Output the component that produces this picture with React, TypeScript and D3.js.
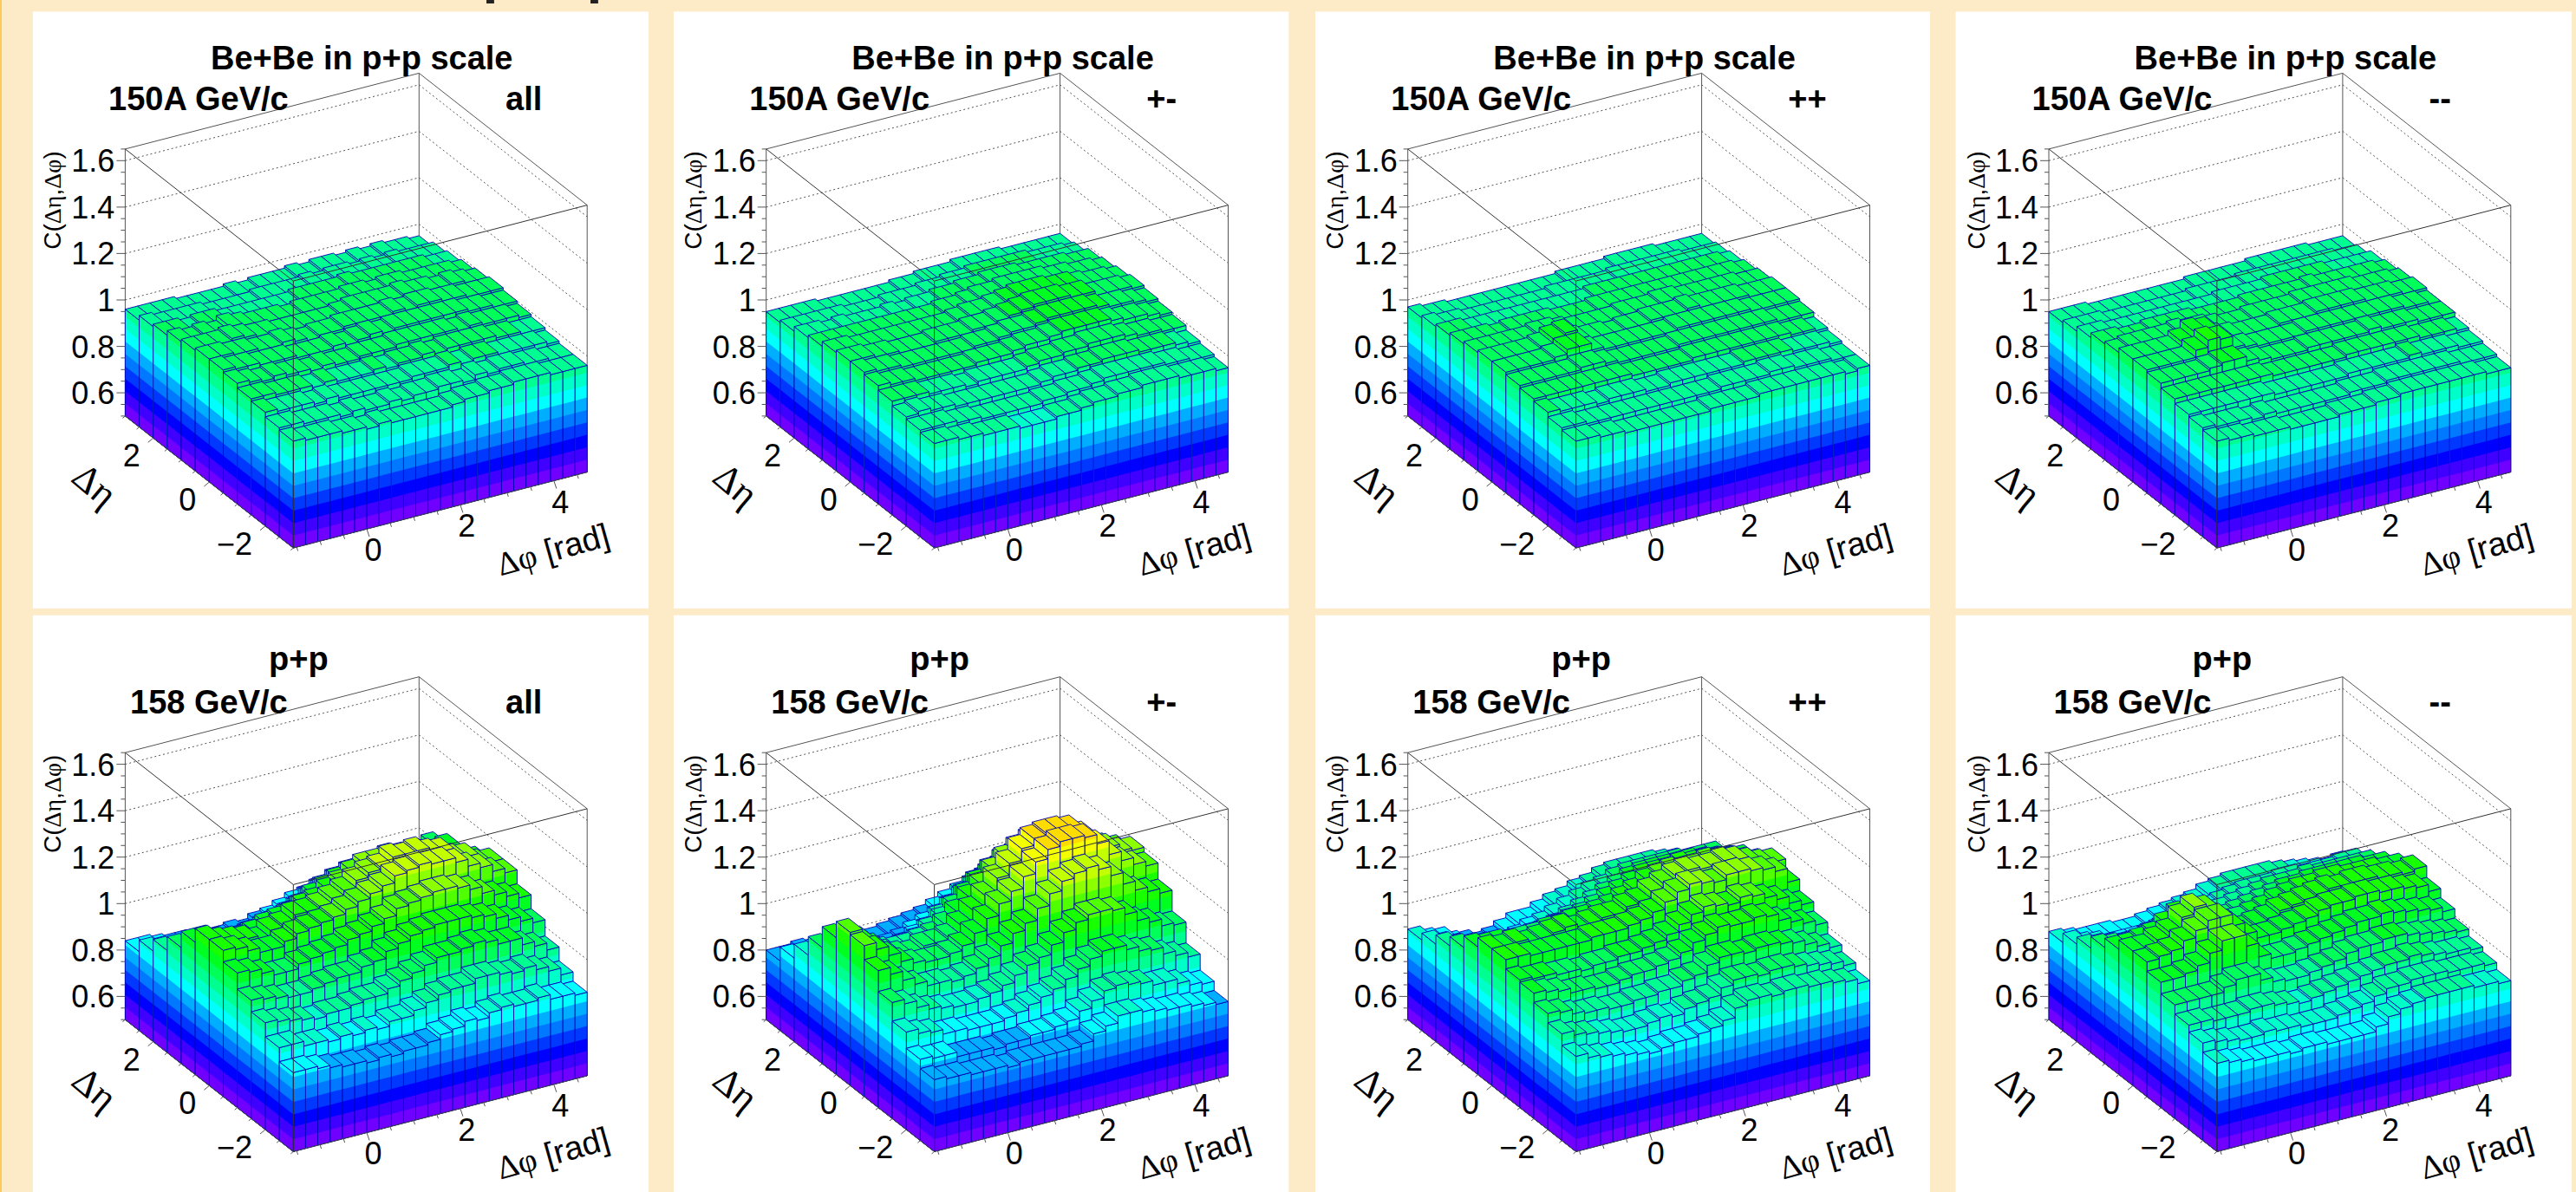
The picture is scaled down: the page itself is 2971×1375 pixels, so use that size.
import * as d3 from "d3";

// C(deta,dphi) values, one row per deta bin (row 0 is deta = -3), 24 dphi bins per row
const beBeAll = [
  [.96,.95,.95,.95,.94,.94,.93,.94,.93,.93,.93,.93,.93,.94,.95,.95,.96,.96,.97,.97,.97,.96,.96,.96],
  [.97,.97,.96,.96,.96,.95,.96,.95,.95,.96,.95,.96,.96,.97,.97,.96,.98,.97,.98,.98,.97,.97,.96,.96],
  [.99,.98,.98,.98,.97,.98,.97,.97,.97,.97,.97,.97,.98,.98,.98,.99,.98,.99,.99,.98,.98,.98,.98,.97],
  [1,1,.99,.99,.99,.98,.99,.98,.98,.98,.99,.98,.99,.99,1,.99,1,1,1,1,.99,.99,.98,.98],
  [1.02,1.01,1,1.01,1,1,.99,1,.99,.99,1,1,1,1.01,1.01,1.01,1.01,1.01,1,1.01,1,1,1,.99],
  [1.03,1.02,1.02,1.01,1.01,1.01,1,1,1,1.01,1,1.01,1.02,1.01,1.02,1.02,1.02,1.02,1.02,1.02,1.01,1.01,1,1],
  [1.03,1.03,1.02,1.02,1.01,1.01,1.02,1.01,1,1.01,1.01,1.02,1.02,1.02,1.02,1.03,1.02,1.03,1.03,1.02,1.02,1.01,1.01,1.01],
  [1.02,1.02,1.02,1.03,1.02,1.01,1.01,1,1,1,1,1,1.01,1.02,1.02,1.02,1.02,1.03,1.02,1.02,1.01,1.02,1.01,1],
  [1.01,1,1.01,1,1.02,1.01,1,1,1,.99,1,1,1,1,1.01,1.01,1,1.01,1.01,1,1,1,1,.99],
  [.99,.99,.98,.99,.99,.98,.98,.98,.98,.98,.98,.99,.99,.99,.99,1,.99,.99,.99,.99,.99,.99,.98,.98],
  [.98,.97,.97,.97,.97,.96,.96,.96,.96,.97,.97,.97,.97,.98,.97,.98,.98,.97,.98,.97,.98,.97,.97,.97],
  [.96,.96,.96,.96,.95,.95,.95,.95,.96,.95,.96,.96,.96,.97,.96,.97,.97,.96,.97,.96,.97,.96,.96,.95],
];
const beBeUnlike = [
  [.95,.95,.94,.94,.93,.93,.93,.92,.92,.92,.93,.93,.94,.95,.95,.96,.96,.97,.97,.97,.96,.96,.96,.95],
  [.96,.96,.96,.95,.95,.94,.94,.94,.94,.94,.95,.95,.96,.96,.97,.98,.98,.98,.98,.98,.97,.97,.96,.96],
  [.97,.98,.97,.97,.96,.96,.96,.96,.96,.96,.96,.97,.98,.98,.99,.99,1,1,1,.99,.99,.99,.98,.97],
  [.99,.99,.99,.98,.98,.98,.97,.98,.98,.98,.98,.99,1,1,1.01,1.01,1.02,1.02,1.02,1.01,1,1,.99,.99],
  [1.01,1,1,.99,.99,.99,.99,.99,1,1,1,1.01,1.02,1.02,1.03,1.04,1.04,1.04,1.04,1.03,1.02,1.02,1.01,1],
  [1.02,1.01,1.01,1,1,1,1,1,1,1.01,1.01,1.02,1.03,1.03,1.04,1.05,1.05,1.05,1.05,1.04,1.03,1.03,1.02,1.01],
  [1.02,1.02,1.01,1.01,1,1,1,1.01,1.01,1.01,1.02,1.02,1.03,1.04,1.05,1.06,1.06,1.06,1.05,1.05,1.03,1.03,1.03,1.02],
  [1.01,1.01,1,1,1,1,1,1,1,1,1.01,1.02,1.02,1.03,1.04,1.05,1.05,1.05,1.04,1.04,1.03,1.02,1.02,1.01],
  [.99,.99,.99,.99,.99,.99,.99,.99,.99,.99,1,1,1.01,1.02,1.02,1.03,1.03,1.03,1.03,1.02,1.02,1.01,1.01,1],
  [.98,.98,.97,.98,.97,.97,.97,.98,.97,.98,.98,.99,.99,1,1,1.01,1.01,1.01,1,1,1,1,.99,.99],
  [.96,.96,.96,.96,.96,.95,.95,.95,.96,.96,.96,.97,.97,.98,.98,.99,.99,.99,.99,.99,.98,.98,.98,.97],
  [.95,.95,.95,.95,.94,.94,.94,.94,.94,.94,.95,.95,.96,.96,.96,.97,.97,.97,.97,.96,.96,.96,.96,.96],
];
const beBePlusPlus = [
  [.96,.96,.95,.95,.94,.94,.94,.94,.94,.94,.94,.95,.95,.95,.95,.96,.96,.96,.96,.96,.96,.96,.95,.96],
  [.97,.97,.96,.96,.96,.96,.96,.96,.96,.96,.96,.96,.96,.97,.97,.97,.97,.98,.98,.97,.97,.97,.96,.96],
  [.99,.98,.98,.98,.97,.98,.98,.98,.97,.97,.98,.98,.98,.98,.98,.98,.99,.99,.99,.99,.98,.98,.98,.97],
  [1,1,1,1,1,1,1,1,.99,.99,.99,.99,.99,1,1,1,1,1,1,1,1,.99,.99,.98],
  [1.01,1.01,1.01,1.01,1.01,1.02,1.02,1.01,1,1,1,1,1,1.01,1.01,1.01,1.01,1.01,1.01,1.01,1.01,1,1,1],
  [1.02,1.02,1.02,1.02,1.03,1.05,1.05,1.02,1.01,1.01,1.01,1.01,1.01,1.01,1.02,1.02,1.02,1.02,1.02,1.02,1.01,1.01,1.01,1.01],
  [1.02,1.02,1.02,1.02,1.03,1.05,1.06,1.02,1.01,1.01,1,1.01,1.01,1.02,1.02,1.02,1.03,1.02,1.02,1.02,1.02,1.01,1.01,1.01],
  [1.01,1.01,1.01,1.01,1.01,1.02,1.02,1.01,1,1,1,1,1.01,1.01,1.01,1.02,1.02,1.01,1.01,1.01,1.01,1.01,1,1],
  [1,1,1,.99,1,1,1,1,.99,.99,.99,1,1,1,1,1,1,1,1,1,1,1,1,.99],
  [.99,.99,.98,.98,.98,.98,.98,.98,.98,.98,.98,.98,.99,.99,.99,.99,.99,.99,.99,.99,.99,.99,.99,.98],
  [.98,.97,.97,.96,.96,.96,.96,.96,.96,.96,.97,.97,.97,.97,.97,.98,.98,.98,.98,.98,.98,.97,.97,.97],
  [.97,.96,.96,.95,.95,.95,.95,.95,.95,.95,.95,.95,.96,.96,.96,.96,.97,.97,.97,.97,.96,.96,.96,.96],
];
const beBeMinusMinus = [
  [.96,.95,.95,.94,.94,.94,.93,.93,.93,.93,.94,.94,.94,.95,.95,.96,.96,.96,.96,.96,.96,.96,.95,.95],
  [.97,.96,.96,.96,.95,.96,.95,.95,.95,.95,.95,.95,.96,.96,.96,.97,.97,.97,.97,.97,.97,.96,.96,.96],
  [.98,.98,.98,.98,.98,.98,.98,.97,.97,.97,.97,.97,.97,.98,.98,.98,.98,.98,.99,.98,.98,.98,.97,.97],
  [1,1,1,1,1,1,1,1,.99,.99,.99,.99,.99,.99,1,1,1,1,1,1,.99,.99,.99,.98],
  [1.02,1.02,1.02,1.02,1.03,1.04,1.04,1.02,1.01,1,1,1,1.01,1.01,1.01,1.01,1.01,1.02,1.01,1.01,1.01,1,1,1],
  [1.03,1.03,1.03,1.03,1.06,1.09,1.08,1.03,1.02,1.01,1.01,1.01,1.01,1.02,1.02,1.02,1.02,1.02,1.02,1.02,1.02,1.01,1.01,1],
  [1.03,1.03,1.03,1.03,1.05,1.08,1.07,1.03,1.02,1.01,1.01,1.01,1.02,1.02,1.02,1.03,1.03,1.03,1.03,1.02,1.02,1.02,1.01,1.01],
  [1.01,1.02,1.02,1.02,1.02,1.03,1.02,1.02,1.01,1,1,1.01,1.01,1.01,1.01,1.02,1.02,1.02,1.02,1.02,1.01,1.01,1.01,1],
  [1,1,.99,.99,1,1,1,1,.99,.99,.99,.99,1,1,1,1,1,1.01,1,1,1,1,1,.99],
  [.98,.98,.97,.97,.97,.97,.97,.97,.97,.97,.97,.98,.98,.98,.98,.99,.99,.99,.99,.99,.98,.98,.98,.98],
  [.96,.96,.96,.95,.95,.95,.95,.95,.95,.95,.96,.96,.96,.96,.97,.97,.97,.97,.97,.97,.97,.97,.96,.96],
  [.95,.95,.95,.94,.94,.94,.94,.94,.94,.94,.94,.95,.95,.95,.95,.95,.96,.96,.96,.96,.96,.95,.95,.95],
];
const ppAll = [
  [.84,.84,.83,.82,.81,.81,.8,.81,.8,.81,.81,.82,.84,.85,.87,.86,.88,.89,.88,.88,.89,.87,.87,.86],
  [.9,.9,.88,.88,.87,.88,.87,.88,.87,.89,.89,.91,.93,.95,.96,.96,.98,.98,.97,.96,.97,.95,.93,.9],
  [.96,.95,.94,.93,.92,.93,.93,.94,.95,.95,.97,.99,1.01,1.03,1.05,1.05,1.06,1.07,1.06,1.04,1.04,1.01,.99,.96],
  [1.01,1,.99,.98,.98,.99,1,1.01,1.01,1.03,1.04,1.07,1.09,1.11,1.12,1.13,1.13,1.13,1.12,1.11,1.09,1.07,1.05,1.03],
  [1.08,1.07,1.05,1.03,1.03,1.05,1.06,1.07,1.08,1.1,1.11,1.13,1.15,1.18,1.19,1.2,1.21,1.21,1.2,1.18,1.15,1.13,1.11,1.09],
  [1.13,1.12,1.1,1.08,1.08,1.1,1.12,1.13,1.14,1.15,1.17,1.19,1.21,1.23,1.26,1.27,1.28,1.27,1.27,1.25,1.22,1.2,1.17,1.15],
  [1.13,1.11,1.1,1.09,1.07,1.1,1.11,1.14,1.14,1.15,1.17,1.19,1.22,1.24,1.25,1.28,1.27,1.28,1.26,1.25,1.21,1.2,1.16,1.15],
  [1.07,1.07,1.05,1.03,1.03,1.04,1.06,1.07,1.08,1.1,1.11,1.14,1.16,1.19,1.21,1.21,1.22,1.21,1.2,1.18,1.16,1.15,1.13,1.11],
  [1,.99,.98,.96,.96,.97,.98,.99,1,1.02,1.04,1.07,1.09,1.11,1.13,1.13,1.14,1.13,1.12,1.11,1.09,1.08,1.06,1.05],
  [.94,.93,.91,.9,.89,.89,.9,.91,.91,.93,.95,.97,1,1.03,1.05,1.05,1.06,1.05,1.05,1.04,1.04,1.05,1.06,1.07],
  [.89,.88,.86,.85,.84,.84,.83,.84,.85,.85,.87,.88,.91,.94,.96,.95,.96,.96,.96,.97,.98,1,1.01,1.03],
  [.84,.84,.83,.82,.82,.8,.8,.8,.81,.8,.82,.83,.85,.87,.88,.9,.9,.91,.91,.92,.92,.93,.94,.95],
];
const ppUnlike = [
  [.81,.8,.8,.79,.79,.79,.78,.79,.79,.79,.79,.79,.8,.83,.85,.88,.88,.87,.86,.85,.85,.84,.83,.82],
  [.85,.84,.84,.82,.82,.82,.81,.82,.82,.83,.83,.84,.85,.88,.91,.94,.95,.94,.93,.91,.91,.89,.87,.86],
  [.92,.9,.89,.87,.87,.86,.86,.86,.87,.88,.9,.92,.94,.97,1,1.03,1.05,1.05,1.03,1.01,1,.97,.95,.93],
  [1,.98,.95,.93,.92,.91,.91,.92,.93,.95,.98,1.01,1.03,1.07,1.11,1.14,1.16,1.16,1.15,1.12,1.08,1.06,1.03,1.02],
  [1.09,1.06,1.02,.99,.97,.97,.96,.97,.99,1.02,1.06,1.1,1.13,1.18,1.23,1.27,1.29,1.3,1.28,1.24,1.19,1.15,1.13,1.11],
  [1.15,1.12,1.08,1.04,1.02,1.01,1.01,1.02,1.04,1.08,1.13,1.18,1.22,1.27,1.32,1.36,1.38,1.38,1.37,1.33,1.27,1.23,1.2,1.18],
  [1.16,1.11,1.07,1.03,1.01,1,1.02,1.02,1.03,1.07,1.12,1.17,1.23,1.28,1.33,1.36,1.37,1.37,1.36,1.32,1.26,1.24,1.21,1.2],
  [1.09,1.05,1.02,.99,.98,.97,.97,.98,.99,1.02,1.06,1.11,1.15,1.2,1.24,1.27,1.29,1.29,1.27,1.24,1.2,1.18,1.17,1.16],
  [1,.98,.95,.92,.91,.9,.9,.91,.92,.95,.98,1.02,1.06,1.1,1.14,1.17,1.18,1.19,1.18,1.16,1.13,1.12,1.12,1.12],
  [.92,.9,.88,.85,.84,.83,.84,.84,.85,.87,.89,.93,.96,1,1.04,1.06,1.08,1.08,1.08,1.06,1.05,1.05,1.06,1.08],
  [.86,.85,.83,.82,.8,.79,.79,.8,.8,.81,.83,.85,.87,.9,.93,.96,.98,1,1,1,1,1,1.01,1.04],
  [.8,.8,.81,.8,.78,.77,.77,.78,.78,.79,.8,.81,.82,.84,.86,.88,.9,.92,.94,.95,.96,.97,.98,.98],
];
const ppPlusPlus = [
  [.91,.89,.88,.87,.86,.85,.84,.85,.86,.86,.87,.88,.9,.94,.96,.96,.95,.96,.96,.95,.95,.94,.93,.91],
  [.96,.94,.93,.92,.91,.9,.9,.91,.92,.91,.93,.94,.95,.98,1,1,.99,1,1,.99,.98,.97,.96,.94],
  [1,.99,.97,.96,.96,.95,.95,.96,.96,.97,.97,.99,1,1.03,1.05,1.05,1.04,1.05,1.05,1.04,1.03,1.01,.99,.97],
  [1.04,1.03,1.02,1,1,.99,.99,1,1.01,1.01,1.02,1.03,1.05,1.08,1.1,1.12,1.11,1.11,1.12,1.11,1.08,1.06,1.04,1.02],
  [1.05,1.04,1.04,1.03,1.03,1.02,1.03,1.03,1.04,1.04,1.05,1.06,1.08,1.11,1.14,1.16,1.15,1.14,1.16,1.15,1.13,1.11,1.08,1.06],
  [1.09,1.09,1.08,1.08,1.08,1.08,1.08,1.09,1.09,1.09,1.1,1.11,1.13,1.16,1.19,1.21,1.2,1.19,1.21,1.21,1.2,1.19,1.17,1.11],
  [1.09,1.08,1.09,1.07,1.08,1.09,1.1,1.08,1.09,1.1,1.1,1.12,1.13,1.16,1.18,1.2,1.21,1.2,1.2,1.21,1.2,1.18,1.16,1.15],
  [1.05,1.04,1.04,1.03,1.03,1.03,1.04,1.04,1.05,1.05,1.06,1.07,1.09,1.11,1.14,1.15,1.16,1.15,1.15,1.16,1.15,1.14,1.12,1.1],
  [1,.99,.98,.97,.96,.96,.97,.97,.98,.99,1,1.02,1.04,1.06,1.08,1.1,1.1,1.1,1.11,1.1,1.1,1.09,1.08,1.07],
  [.96,.94,.92,.9,.89,.89,.89,.9,.91,.92,.94,.96,.98,1,1.02,1.04,1.05,1.05,1.05,1.05,1.05,1.04,1.03,1.02],
  [.92,.9,.88,.85,.84,.83,.84,.85,.87,.88,.9,.92,.94,.96,.97,.99,1,1,1,1,1,.99,.99,.99],
  [.89,.87,.86,.83,.82,.8,.81,.83,.85,.85,.87,.89,.9,.92,.93,.95,.96,.96,.96,.96,.95,.94,.92,.9],
];
const ppMinusMinus = [
  [.88,.87,.86,.85,.85,.85,.84,.85,.85,.84,.84,.84,.84,.86,.89,.91,.92,.93,.93,.93,.93,.92,.92,.91],
  [.92,.91,.9,.89,.89,.9,.89,.89,.88,.88,.88,.89,.9,.91,.93,.95,.95,.96,.96,.96,.95,.95,.95,.94],
  [.95,.95,.94,.94,.94,.95,.95,.94,.93,.92,.93,.94,.95,.96,.97,.98,.99,.99,1,.99,.98,.97,.97,.96],
  [.99,.99,.99,.99,1.01,1.03,1.03,1,.98,.97,.97,.98,.99,1,1.02,1.03,1.03,1.04,1.04,1.03,1.02,1.01,1,.99],
  [1.04,1.04,1.05,1.07,1.11,1.15,1.15,1.1,1.04,1.02,1.02,1.03,1.04,1.05,1.06,1.07,1.08,1.08,1.09,1.08,1.07,1.06,1.05,1.03],
  [1.08,1.09,1.1,1.13,1.16,1.19,1.19,1.14,1.09,1.06,1.06,1.07,1.08,1.09,1.11,1.12,1.12,1.13,1.13,1.12,1.12,1.11,1.1,1.07],
  [1.08,1.08,1.1,1.12,1.17,1.2,1.18,1.13,1.08,1.05,1.06,1.07,1.09,1.1,1.11,1.12,1.13,1.12,1.13,1.13,1.12,1.12,1.11,1.12],
  [1.04,1.04,1.05,1.06,1.09,1.12,1.11,1.07,1.04,1.03,1.03,1.04,1.05,1.07,1.08,1.09,1.09,1.1,1.1,1.09,1.09,1.09,1.08,1.08],
  [1,.99,.98,.98,1,1.01,1.01,1,.99,.98,.99,1,1.01,1.02,1.03,1.04,1.04,1.05,1.05,1.05,1.05,1.05,1.04,1.04],
  [.95,.94,.93,.92,.92,.93,.93,.94,.94,.94,.95,.96,.97,.98,.99,1,1,1,1.01,1,1,1,1,1],
  [.92,.9,.89,.87,.87,.87,.87,.88,.89,.9,.91,.92,.93,.94,.95,.95,.95,.96,.96,.95,.95,.95,.96,.96],
  [.88,.87,.86,.86,.86,.85,.85,.86,.87,.88,.89,.9,.92,.93,.94,.94,.94,.94,.93,.92,.91,.9,.89,.9],
];

const zTicks = [0.6, 0.8, 1, 1.2, 1.4, 1.6];
const zTickLabels = ["0.6", "0.8", "1", "1.2", "1.4", "1.6"];
const phiTicks = [0, 2, 4];
const etaTicks = [-2, 0, 2];
const etaTickLabels = ["\u22122", "0", "2"];
const chargeLabels = ["all", "+-", "++", "--"];
const beBeSets = [beBeAll, beBeUnlike, beBePlusPlus, beBeMinusMinus];
const ppSets = [ppAll, ppUnlike, ppPlusPlus, ppMinusMinus];
// colour of each contour band, bottom to top
const palette = [
  "#7000ff", "#4000ff", "#0000ff", "#0038ff", "#0078ff", "#00aeff", "#00ffff",
  "#00ffc8", "#00ff90", "#00ff58", "#00ff20", "#18ff00", "#50ff00", "#8cff00",
  "#c4ff00", "#f4ff00", "#ffdc00", "#ffa800", "#ff7000",
];

const width = 2971;
const height = 1375;
const zMin = 0.5;
const zMax = 1.65;
const bandStep = 0.0535;
const phiMin = -Math.PI / 2;
const phiMax = (3 * Math.PI) / 2;
const nPhi = 24;
const nEta = 12;

const bandLevels = d3.range(palette.length - 1).map((k) => zMin + (k + 1) * bandStep);
const bandColour = d3.scaleThreshold().domain(bandLevels).range(palette);
const phiEdges = d3.range(nPhi + 1).map((i) => phiMin + (i * (phiMax - phiMin)) / nPhi);
const etaEdges = d3.range(nEta + 1).map((j) => -3 + j * 0.5);

// axonometric box: the three box edges meeting at the front bottom corner
const phiToX = d3.scaleLinear().domain([phiMin, phiMax]).range([338.3, 677.2]);
const phiToY = d3.scaleLinear().domain([phiMin, phiMax]).range([632.1, 544.6]);
const etaToX = d3.scaleLinear().domain([-3, 3]).range([0, -193.9]);
const etaToY = d3.scaleLinear().domain([-3, 3]).range([0, -152.2]);
const zToY = d3.scaleLinear().domain([zMin, zMax]).range([0, -308]);

const project = (phi, eta, z) => [
  +(phiToX(phi) + etaToX(eta)).toFixed(1),
  +(phiToY(phi) + etaToY(eta) + zToY(z)).toFixed(1),
];
const poly = (pts) => d3.line()(pts) + "Z";

// one vertical face split in contour bands, painted top band first so no seams show
function faceMarks(a, b, zLow, zTop, key) {
  const marks = [];
  const outline = [
    project(a[0], a[1], zLow),
    project(b[0], b[1], zLow),
    project(b[0], b[1], zTop),
    project(a[0], a[1], zTop),
  ];
  const kTop = bandLevels.findIndex((l) => l >= zTop);
  const top = kTop < 0 ? palette.length - 1 : kTop;
  for (let k = top; k >= 0; k--) {
    const bandLow = zMin + k * bandStep;
    const upper = Math.min(zMin + (k + 1) * bandStep, zTop);
    if (upper <= zLow) break;
    if (bandLow >= zTop) continue;
    marks.push(
      <path
        key={`${key}-${k}`}
        d={poly([
          project(a[0], a[1], zLow),
          project(b[0], b[1], zLow),
          project(b[0], b[1], upper),
          project(a[0], a[1], upper),
        ])}
        fill={palette[k]}
      />,
    );
  }
  marks.push(<path key={`${key}-o`} d={poly(outline)} fill="none" stroke="#0000b4" strokeWidth={0.9} />);
  return marks;
}

function legoMarks(values) {
  const marks = [];
  // back to front
  for (let j = nEta - 1; j >= 0; j--) {
    for (let i = nPhi - 1; i >= 0; i--) {
      const z = values[j][i];
      const p0 = phiEdges[i];
      const p1 = phiEdges[i + 1];
      const e0 = etaEdges[j];
      const e1 = etaEdges[j + 1];
      const frontZ = j > 0 ? values[j - 1][i] : zMin;
      const leftZ = i > 0 ? values[j][i - 1] : zMin;
      if (z > frontZ) marks.push(...faceMarks([p0, e0], [p1, e0], frontZ, z, `f${i}-${j}`));
      if (z > leftZ) marks.push(...faceMarks([p0, e0], [p0, e1], leftZ, z, `l${i}-${j}`));
      marks.push(
        <path
          key={`t${i}-${j}`}
          d={poly([project(p0, e0, z), project(p1, e0, z), project(p1, e1, z), project(p0, e1, z)])}
          fill={bandColour(z)}
          stroke="#0000b4"
          strokeWidth={0.9}
        />,
      );
    }
  }
  return marks;
}

const seg = (a, b) => d3.line()([a, b]);

function Panel({ x0, y0, values, title, titleX, energy, energyX, charge, chargeX }) {
  const backBottom = project(phiMax, 3, zMin);
  const backTop = project(phiMax, 3, zMax);
  const leftBottom = project(phiMin, 3, zMin);
  const leftTop = project(phiMin, 3, zMax);
  const rightBottom = project(phiMax, -3, zMin);
  const rightTop = project(phiMax, -3, zMax);
  const frontBottom = project(phiMin, -3, zMin);
  const frontTop = project(phiMin, -3, zMax);
  const zMinor = d3.range(0.5, 1.651, 0.05);
  const phiMinor = d3.range(-1.5, 4.51, 0.5);
  const etaMinor = d3.range(-3, 3.01, 0.5);
  const font = "'Liberation Sans', Arial, sans-serif";

  return (
    <g transform={`translate(${x0},${y0})`} fontFamily={font}>
      <g stroke="#555" strokeWidth={1} fill="none">
        {zTicks.map((t) => (
          <path
            key={t}
            strokeDasharray="2 3"
            d={d3.line()([project(phiMin, 3, t), project(phiMax, 3, t), project(phiMax, -3, t)])}
          />
        ))}
        <path d={seg(leftBottom, leftTop)} />
        <path d={seg(backBottom, backTop)} />
        <path d={seg(rightBottom, rightTop)} />
        <path d={seg(leftTop, backTop)} />
        <path d={seg(backTop, rightTop)} />
      </g>
      {legoMarks(values)}
      <g stroke="#333" strokeWidth={1} fill="none">
        <path d={seg(leftTop, frontTop)} />
        <path d={seg(frontTop, rightTop)} />
        <path d={seg(frontTop, frontBottom)} />
        <path d={seg(leftBottom, frontBottom)} stroke="#444" />
        <path d={seg(frontBottom, rightBottom)} stroke="#444" />
      </g>
      <g stroke="#555" strokeWidth={1}>
        {zMinor.map((t) => {
          const p = project(phiMin, 3, t);
          const big = zTicks.some((m) => Math.abs(m - t) < 1e-6);
          return <line key={t} x1={p[0]} y1={p[1]} x2={p[0] - (big ? 10 : 5)} y2={p[1]} />;
        })}
        {phiMinor.map((t) => {
          const p = project(t, -3, zMin);
          const big = phiTicks.includes(t);
          return <line key={t} x1={p[0]} y1={p[1]} x2={p[0] + (big ? 3 : 1.5)} y2={p[1] + (big ? 9 : 4.5)} />;
        })}
        {etaMinor.map((t) => {
          const p = project(phiMin, t, zMin);
          const big = etaTicks.includes(t);
          return <line key={t} x1={p[0]} y1={p[1]} x2={p[0] - (big ? 6 : 3)} y2={p[1] + (big ? 5 : 2.5)} />;
        })}
      </g>
      <g fontSize={36} fill="#000">
        {zTicks.map((t, n) => (
          <text key={t} x={project(phiMin, 3, t)[0] - 12} y={project(phiMin, 3, t)[1] + 13} textAnchor="end">
            {zTickLabels[n]}
          </text>
        ))}
        {phiTicks.map((t) => (
          <text key={t} x={project(t, -3, zMin)[0] + 7.4} y={project(t, -3, zMin)[1] + 37} textAnchor="middle">
            {t}
          </text>
        ))}
        {etaTicks.map((t, n) => (
          <text key={t} x={project(phiMin, t, zMin)[0] - 15} y={project(phiMin, t, zMin)[1] + 33} textAnchor="end">
            {etaTickLabels[n]}
          </text>
        ))}
        <text transform="translate(107.6,561.6) rotate(40)" textAnchor="middle" dy={12} fontSize={44} fontFamily="'Liberation Serif', serif">
          Δη
        </text>
        <text transform="translate(638,635) rotate(-15.7)" textAnchor="middle" dy={12} fontSize={38}>
          <tspan fontFamily="'Liberation Serif', serif">Δφ</tspan> [rad]
        </text>
        <text transform="translate(70,231) rotate(-90)" textAnchor="middle" fontSize={28}>
          C(<tspan fontFamily="'Liberation Serif', serif">Δη</tspan>,<tspan fontFamily="'Liberation Serif', serif">Δφ</tspan>)
        </text>
      </g>
      <g fontSize={38} fontWeight="bold" fill="#000">
        <text x={titleX} y={title === "p+p" ? 76.7 : 80}>{title}</text>
        <text x={energyX} y={126.5}>{energy}</text>
        <text x={chargeX} y={126.5}>{charge}</text>
      </g>
    </g>
  );
}

export default function App() {
  const panelX = [0, 739.3, 1479.3, 2218.6];
  const whiteX = [37.8, 777, 1517, 2255.5];
  const whiteW = [710.2, 709.4, 709, 710.5];
  const rowY = [0, 696.3];
  return (
    <svg
      xmlns="http://www.w3.org/2000/svg"
      width={width}
      height={height}
      viewBox={`0 0 ${width} ${height}`}
      style={{ position: "absolute", left: 0, top: 0 }}
    >
      <rect width={width} height={height} fill="#fdeac6" />
      <rect width={2} height={height} fill="#fdc95a" />
      <text x={552} y={-17} fontFamily="'Liberation Mono', monospace" fontSize={100} fill="#222">
        p+p
      </text>
      {whiteX.map((x, n) => (
        <g key={x}>
          <rect x={x} y={13.4} width={whiteW[n]} height={688.4} fill="#fff" />
          <rect x={x} y={709.7} width={whiteW[n]} height={680} fill="#fff" />
        </g>
      ))}
      {beBeSets.map((values, n) => (
        <Panel
          key={`b${n}`}
          x0={panelX[n]}
          y0={rowY[0]}
          values={values}
          title="Be+Be in p+p scale"
          titleX={243}
          energy="150A GeV/c"
          energyX={125}
          charge={chargeLabels[n]}
          chargeX={583}
        />
      ))}
      {ppSets.map((values, n) => (
        <Panel
          key={`p${n}`}
          x0={panelX[n]}
          y0={rowY[1]}
          values={values}
          title="p+p"
          titleX={310}
          energy="158 GeV/c"
          energyX={150}
          charge={chargeLabels[n]}
          chargeX={583}
        />
      ))}
    </svg>
  );
}
